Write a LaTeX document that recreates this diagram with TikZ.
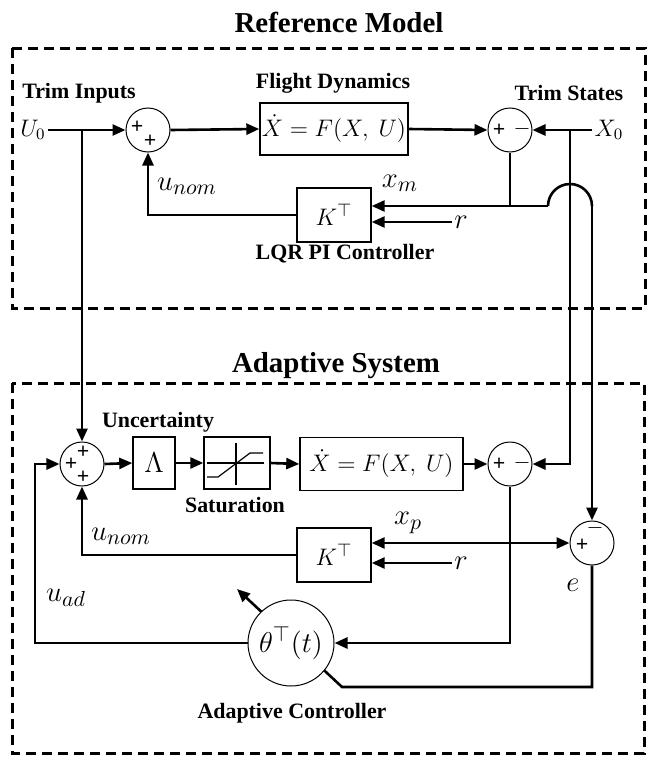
\documentclass[tikz,border=0pt]{standalone}
\usepackage[no-math]{fontspec}
\setmainfont{Liberation Serif}
\usetikzlibrary{arrows.meta}

\begin{document}
\begin{tikzpicture}[x=0.5bp, y=-0.5bp,
    sig/.style={line width=1.3bp},
    sigarrow/.style={sig, -{Triangle[length=6.5bp,width=5.5bp]}},
    blockbox/.style={draw, line width=0.7bp, inner sep=0pt, fill=white, font=\fontsize{11.8}{14}\selectfont},
    sumnode/.style={draw, circle, line width=0.5bp, minimum size=22bp, inner sep=0pt, fill=white},
    lbl/.style={font=\fontsize{11}{13}\selectfont\bfseries, inner sep=1pt},
    ttl/.style={font=\fontsize{14.5}{17}\selectfont\bfseries},
    mlbl/.style={font=\fontsize{15}{17}\selectfont, inner sep=1pt},
    sgn/.style={font=\fontsize{11}{12}\selectfont\bfseries, inner sep=0pt},
    dashbox/.style={line width=1.5bp, dash pattern=on 5bp off 3bp}]
      \useasboundingbox (0,0) rectangle (648,761);
      
      \draw[dashbox] (12,48) rectangle (645,308);
      \draw[dashbox] (12,383) rectangle (644,753);
      \node[ttl] (tRef) at (339,22) {Reference Model};
      \node[ttl] (tAd) at (336,366) {Adaptive System};
      
      % reference model
      \node[sumnode] (sumA) at (148,130) {};
      \node[sgn] (sA1) at (137,127) {+};
      \node[sgn] (sA2) at (150,141) {+};
      \node[blockbox, minimum width=74bp, minimum height=26bp] (fdA) at (334,129) {$\dot X = F(X,\ U)$};
      \node[sumnode] (sumB) at (510,130) {};
      \node[sgn] (sB1) at (499,130) {+};
      \node[sgn] (sB2) at (522,129) {$-$};
      \node[blockbox, minimum width=37bp, minimum height=27bp, font=\fontsize{13}{15}\selectfont] (kA) at (334,215) {$K^{\top}$};
      
      \node[mlbl, font=\fontsize{11.5}{13}\selectfont] (U0) at (33,130) {$U_0$};
      \node[mlbl, font=\fontsize{11.5}{13}\selectfont] (X0) at (609,130) {$X_0$};
      \node[lbl] (tIn) at (79,93) {Trim Inputs};
      \node[lbl] (tFD) at (333,83) {Flight Dynamics};
      \node[lbl] (tSt) at (569,93) {Trim States};
      \node[lbl] (tLQR) at (345,254) {LQR PI Controller};
      \node[mlbl] (unomA) at (187,186) {$u_{nom}$};
      \node[mlbl] (xm) at (400,183) {$x_m$};
      \node[mlbl] (rA) at (461,222) {$r$};
      
      \coordinate (jU) at (82,130);
      \coordinate (jX) at (570,130);
      \coordinate (hm1) at (548,206);
      \coordinate (hm2) at (592,206);
      
      \draw[sigarrow] (U0.east) -- (sumA.west);
      \draw[sigarrow] (sumA.east) -- (fdA.west);
      \draw[sigarrow] (fdA.east) -- (sumB.west);
      \draw[sigarrow] (X0.west) -- (sumB.east);
      \draw[sigarrow] (kA.west) -| (sumA.south);
      \draw[sig] (sumB.south) -- (sumB.south |- hm1);
      \draw[sigarrow] (hm1) -- (kA.east |- hm1);
      \draw[sig] (hm1) arc[start angle=180, end angle=360, radius=22]; % hop over X0 line
      \draw[sigarrow] (rA.west) -- (kA.east |- rA);
      
      % adaptive system
      \node[sumnode] (sumC) at (82,464) {};
      \node[sgn] (sC1) at (83,452) {+};
      \node[sgn] (sC2) at (71,464) {+};
      \node[sgn] (sC3) at (83,477) {+};
      \node[blockbox, minimum width=21bp, minimum height=26bp, font=\fontsize{14}{16}\selectfont] (lam) at (154,463) {$\Lambda$};
      \node[blockbox, minimum width=33bp, minimum height=26bp] (sat) at (237,463) {};
      \draw[line width=0.6bp] (207,463) -- (264,463) (236,443) -- (236,485);
      \draw[line width=0.6bp] (207,477) -- (218,477) -- (250,453) -- (263,453);
      \node[blockbox, minimum width=81.5bp, minimum height=26.5bp] (fdB) at (381.5,464) {$\dot X = F(X,\ U)$};
      \node[sumnode] (sumD) at (510,464) {};
      \node[sgn] (sD1) at (499,464) {+};
      \node[sgn] (sD2) at (522,463) {$-$};
      \node[blockbox, minimum width=37bp, minimum height=27bp, font=\fontsize{13}{15}\selectfont] (kB) at (334,555) {$K^{\top}$};
      \node[sumnode] (sumE) at (592,543) {};
      \node[sgn] (sE1) at (582,545) {+};
      \node[sgn] (sE2) at (595,528) {$-$};
      
      \node[lbl] (tUnc) at (158,422) {Uncertainty};
      \node[lbl] (tSat) at (235,505) {Saturation};
      \node[lbl] (tAC) at (292,713) {Adaptive Controller};
      \node[mlbl] (unomB) at (121,536) {$u_{nom}$};
      \node[mlbl] (xp) at (408,523) {$x_p$};
      \node[mlbl] (rB) at (461,563) {$r$};
      \node[mlbl] (eL) at (573,585) {$e$};
      \node[mlbl] (uad) at (66,598) {$u_{ad}$};
      
      \coordinate (eC) at (342,687);
      \coordinate (adj) at (237,589);
      \coordinate (uadC) at (35,643);
      
      \draw[sigarrow] (jU) -- (sumC.north);
      \draw[sigarrow] (sumC.east) -- (lam.west);
      \draw[sigarrow] (lam.east) -- (sat.west);
      \draw[sigarrow] (sat.east) -- (fdB.west);
      \draw[sigarrow] (fdB.east) -- (sumD.west);
      \draw[sigarrow] (jX) |- (sumD.east);
      \draw[sigarrow] (hm2) -- (sumE.north);
      \draw[sigarrow] (kB.west) -| (sumC.south);
      \draw[sig, {Triangle[length=6.5bp,width=5.5bp]}-{Triangle[length=6.5bp,width=5.5bp]}] (kB.east |- sumE) -- (sumE.west);
      \draw[sigarrow] (rB.west) -- (kB.east |- rB);
      \draw[sigarrow] (sumE.south) |- (eC) -- (adj); % passes under theta
      
      \node[sumnode, minimum size=43bp, font=\fontsize{15}{17}\selectfont] (theta) at (291,643) {$\theta^{\top}(t)$};
      \draw[sigarrow] (sumD.south) |- (theta.east);
      \draw[sigarrow] (theta.west) -- (uadC) |- (sumC.west);
      
    \end{tikzpicture}
\end{document}
